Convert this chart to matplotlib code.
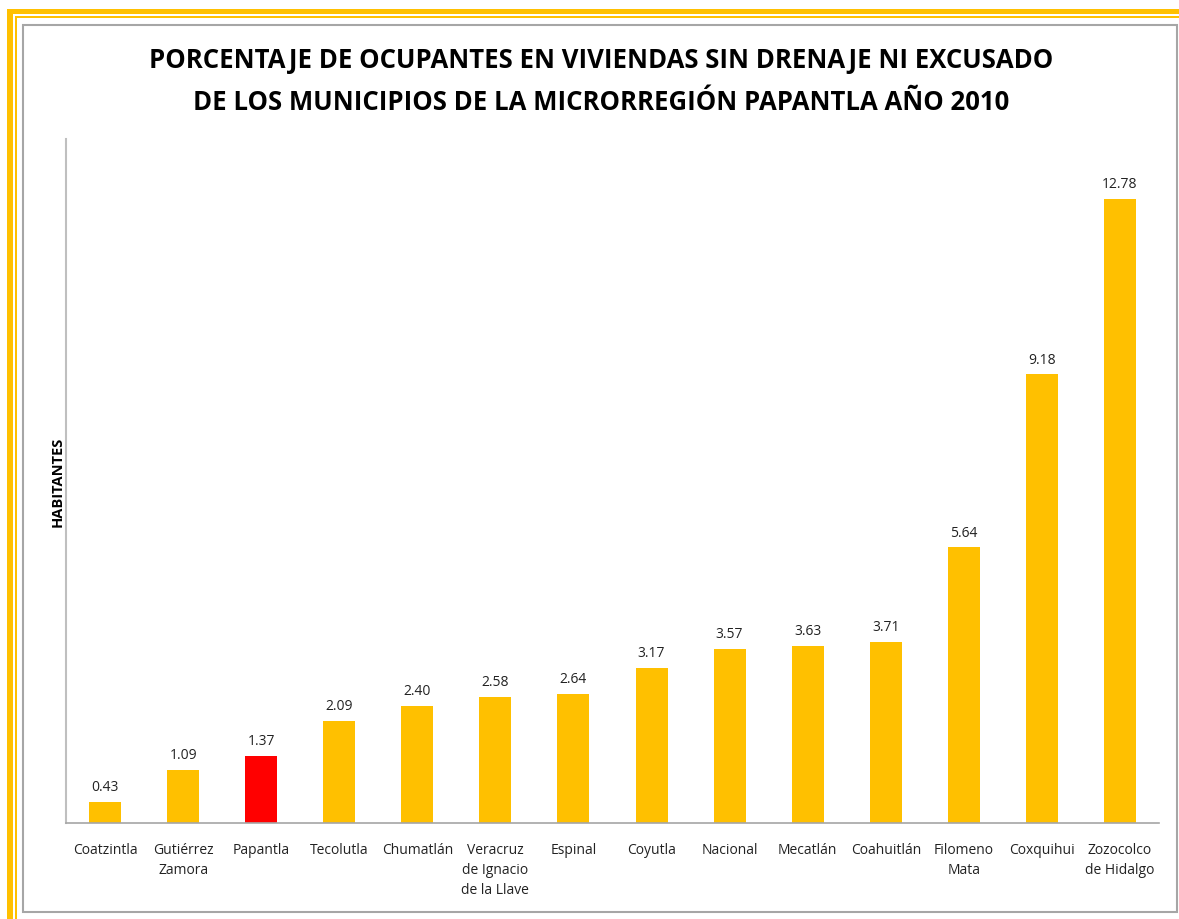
import matplotlib
matplotlib.use("Agg")
import matplotlib.pyplot as plt
from matplotlib.patches import Rectangle

categories = ["Coatzintla", "Gutiérrez\nZamora", "Papantla", "Tecolutla", "Chumatlán",
              "Veracruz\nde Ignacio\nde la Llave", "Espinal", "Coyutla", "Nacional",
              "Mecatlán", "Coahuitlán", "Filomeno\nMata", "Coxquihui", "Zozocolco\nde Hidalgo"]
values = [0.43, 1.09, 1.37, 2.09, 2.40, 2.58, 2.64, 3.17, 3.57, 3.63, 3.71, 5.64, 9.18, 12.78]
highlight = "Papantla"

W, H = 1179, 920
fig = plt.figure(figsize=(W / 100, H / 100), dpi=100)
plt.rcParams['font.family'] = ['Open Sans', 'DejaVu Sans']

def px(x0, y0, x1, y1, **kw):
    fig.patches.append(Rectangle((x0 / W, 1 - y1 / H), (x1 - x0) / W, (y1 - y0) / H,
                                 transform=fig.transFigure, **kw))

gold = "#FFC000"
# outer decorative frame
px(7, 10, W + 5, 15, color=gold, lw=0)
px(7, 10, 13, H + 5, color=gold, lw=0)
px(15, 17, W + 5, 18.5, color=gold, lw=0)
px(15, 17, 16.5, H + 5, color=gold, lw=0)
# inner gray border
px(23, 26, 1177, 913, fill=False, edgecolor="#A6A6A6", lw=1.5)

ax = fig.add_axes([66 / W, 1 - 824 / H, (1159 - 66) / W, (824 - 140) / H])
colors = ["#FF0000" if c == highlight else gold for c in categories]
x = range(len(categories))
bars = ax.bar(x, values, width=0.41, color=colors)
ax.set_xlim(-0.5, len(categories) - 0.5)
ax.set_ylim(0, 14)
for xi, v in zip(x, values):
    ax.text(xi, v + 0.16, f"{v:.2f}", ha="center", va="bottom", fontsize=10, color="#222222")
ax.set_xticks(list(x))
ax.set_xticklabels(categories, fontsize=10, color="#222222", linespacing=1.45, va="top")
ax.tick_params(axis="x", length=0, pad=14)
ax.set_yticks([])
for s in ["top", "right"]:
    ax.spines[s].set_visible(False)
ax.spines["left"].set_color("#BFBFBF")
ax.spines["bottom"].set_color("#A6A6A6")
ax.spines["left"].set_linewidth(1.5)
ax.spines["bottom"].set_linewidth(1.2)

fig.text(58 / W, 1 - 482 / H, "HABITANTES", rotation=90, ha="center", va="center",
         fontsize=10.5, fontweight="bold")
fig.text(601 / W, 1 - 61 / H, "PORCENTAJE DE OCUPANTES EN VIVIENDAS SIN DRENAJE NI EXCUSADO",
         ha="center", va="center", fontsize=18.5, fontweight="bold")
fig.text(601 / W, 1 - 102 / H, "DE LOS MUNICIPIOS DE LA MICRORREGIÓN PAPANTLA AÑO 2010",
         ha="center", va="center", fontsize=18.5, fontweight="bold")

fig.savefig("out.png", dpi=100)
